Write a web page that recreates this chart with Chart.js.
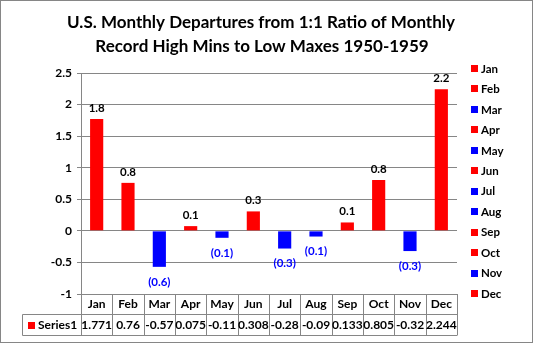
<!DOCTYPE html>
<html>
<head>
<meta charset="utf-8">
<script src="https://cdn.jsdelivr.net/npm/chart.js@4"></script>
<style>
  html, body { margin: 0; padding: 0; background: #fff; }
  #wrap { width: 533px; height: 343px; position: relative; }
</style>
</head>
<body>
<div id="wrap"><canvas id="myChart1" width="533" height="343"></canvas></div>
<script>
const months = ["Jan", "Feb", "Mar", "Apr", "May", "Jun", "Jul", "Aug", "Sep", "Oct", "Nov", "Dec"];
const series1 = [1.771, 0.76, -0.57, 0.075, -0.11, 0.308, -0.28, -0.09, 0.133, 0.805, -0.32, 2.244];
const tableText = ["1.771", "0.76", "-0.57", "0.075", "-0.11", "0.308", "-0.28", "-0.09", "0.133", "0.805", "-0.32", "2.244"];
const titleLines = ["U.S. Monthly Departures from 1:1 Ratio of Monthly", "Record High Mins to Low Maxes 1950-1959"];

const RED = "#ff0000";
const BLUE = "#0000ff";
const GRID = "#868686";
const FONT = "Lato, 'Open Sans', sans-serif";

function barColor(v) {
  return v < 0 ? BLUE : RED;
}

function fmt(v) {
  const s = Math.abs(v).toFixed(1);
  return v < 0 ? "(" + s + ")" : s;
}

// title, bar labels, legend, data table
const extras = {
  id: "extras",
  afterDraw(chart) {
    const ctx = chart.ctx;
    const area = chart.chartArea;
    const x = chart.scales.x;
    const meta = chart.getDatasetMeta(0);
    ctx.save();

    // outer border
    ctx.strokeStyle = GRID;
    ctx.lineWidth = 1;
    ctx.strokeRect(0.5, 0.5, 532, 342);

    // title
    ctx.fillStyle = "#000";
    ctx.textAlign = "center";
    ctx.textBaseline = "middle";
    ctx.font = "bold 17px " + FONT;
    ctx.fillText(titleLines[0], 261, 23);
    ctx.fillText(titleLines[1], 262, 47);

    // value labels
    ctx.font = "bold 11.5px " + FONT;
    meta.data.forEach(function (bar, i) {
      const v = series1[i];
      if (v >= 0) {
        ctx.fillStyle = "#000";
        ctx.fillText(fmt(v), bar.x, bar.y - 11);
      } else {
        ctx.fillStyle = BLUE;
        ctx.fillText(fmt(v), bar.x, bar.y + 15);
      }
    });

    // legend
    ctx.textAlign = "left";
    months.forEach(function (m, i) {
      const cy = 68 + i * 20.45;
      ctx.fillStyle = barColor(series1[i]);
      ctx.fillRect(471, Math.round(cy) - 3, 7, 7);
      ctx.fillStyle = "#000";
      ctx.font = "bold 11.5px " + FONT;
      ctx.fillText(m, 481, cy + 1);
    });

    // data table
    const top = area.bottom;
    const mid = 314.5;
    const bot = 335.5;
    const left = 22.5;
    const step = (area.right - area.left) / months.length;
    ctx.strokeStyle = GRID;
    ctx.beginPath();
    for (let i = 0; i <= months.length; i++) {
      const lx = Math.round(area.left + i * step) + 0.5;
      ctx.moveTo(lx, top);
      ctx.lineTo(lx, bot);
    }
    ctx.moveTo(left, mid);
    ctx.lineTo(area.right, mid);
    ctx.moveTo(left, bot);
    ctx.lineTo(area.right, bot);
    ctx.moveTo(left, mid);
    ctx.lineTo(left, bot);
    ctx.stroke();

    ctx.textAlign = "center";
    ctx.fillStyle = "#000";
    ctx.font = "bold 12px " + FONT;
    months.forEach(function (m, i) {
      const cx = x.getPixelForValue(i);
      ctx.fillText(m, cx, 304.5);
      ctx.fillText(tableText[i], cx, 325.5);
    });
    ctx.textAlign = "left";
    ctx.fillStyle = RED;
    ctx.fillRect(28, 322, 7, 7);
    ctx.fillStyle = "#000";
    ctx.fillText("Series1", 38, 325.5);

    ctx.restore();
  },
};

const myChart1 = document.getElementById("myChart1").getContext("2d");
const depChart = new Chart(myChart1, {
  type: "bar",
  data: {
    labels: months,
    datasets: [
      {
        label: "Series1",
        data: series1,
        backgroundColor: series1.map(barColor),
        barPercentage: 0.42,
        categoryPercentage: 1,
      },
    ],
  },
  options: {
    responsive: false,
    animation: false,
    layout: { padding: { left: 0, top: 73, right: 76, bottom: 49 } },
    plugins: {
      legend: { display: false },
      title: { display: false },
      tooltip: { enabled: false },
    },
    scales: {
      x: { display: false },
      y: {
        min: -1,
        max: 2.5,
        afterFit: function (scale) { scale.width = 81; },
        ticks: {
          stepSize: 0.5,
          padding: 5,
          color: "#000",
          font: { family: FONT, size: 12, weight: "bold" },
          callback: function (v) { return String(v); },
        },
        grid: { color: GRID, tickLength: 4, tickColor: GRID },
        border: { display: true, color: GRID },
      },
    },
  },
  plugins: [extras],
});
</script>
</body>
</html>
